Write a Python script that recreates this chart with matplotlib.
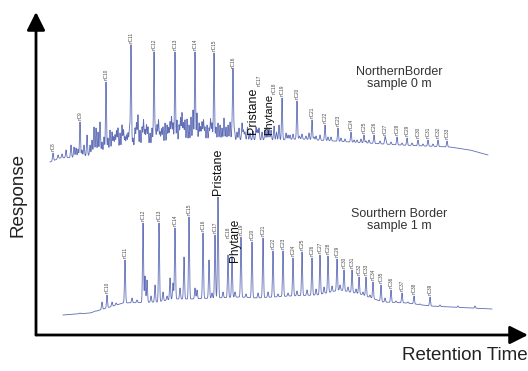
import numpy as np
import matplotlib
matplotlib.use("Agg")
import matplotlib.pyplot as plt

plt.rcParams["font.family"] = ["Liberation Sans", "DejaVu Sans"]

# ---------------- Northern Border, sample 0 m ----------------
north_base_t = [1.4, 2.4, 4.4, 7.4, 10.4, 13.4, 16.4, 20.4, 24.4, 26.4, 31.4, 36.4, 41.4, 43.4, 45.2]
north_base_r = [13, 17, 18, 23, 27, 29, 32, 35, 35, 36, 33, 30, 28, 25, 20]

north_names = ["nC8", "nC9", "nC10", "nC11", "nC12", "nC13", "nC14", "nC15", "nC16",
               "nC17", "nC18", "nC19", "nC20", "nC21", "nC22", "nC23", "nC24", "nC25",
               "nC26", "nC27", "nC28", "nC29", "nC30", "nC31", "nC32", "nC33"]
north_t = [1.7, 4.4, 7.0, 9.5, 11.8, 13.9, 15.9, 17.8, 19.7,
           22.3, 23.8, 24.6, 26.1, 27.6, 28.9, 30.2, 31.5, 32.8,
           33.8, 34.9, 36.1, 37.1, 38.2, 39.2, 40.2, 41.1]
north_r = [22, 53, 93, 130, 123, 123, 123, 122, 105,
           47, 49, 77, 74, 55, 50, 47, 43, 40,
           40, 38, 38, 37, 35, 35, 35, 34]

north_iso_t = [22.0, 23.5]      # pristane, phytane
north_iso_r = [48, 45]

north_minor_t = [2.2, 2.6, 3.0, 3.5, 3.8, 4.0, 4.2, 4.6, 4.8, 5.1, 5.4, 5.6, 5.8, 6.0,
                 6.2, 6.4, 6.6, 6.8, 7.2, 7.4, 7.6, 7.75, 7.9, 8.05, 8.2, 8.4, 8.6,
                 8.75, 8.9, 9.05, 9.2, 9.35, 9.7, 9.9, 10.05, 10.2, 10.4, 10.6, 10.75,
                 10.9, 11.05, 11.2, 11.4, 11.6, 11.95, 12.1, 12.25, 12.4, 12.55, 12.7,
                 12.9, 13.1, 13.25, 13.4, 13.55, 13.7, 14.1, 14.3, 14.45, 14.6, 14.75,
                 14.9, 15.1, 15.3, 15.5, 15.7, 16.1, 16.3, 16.45, 16.6, 16.75, 16.9,
                 17.1, 17.3, 17.45, 17.6, 18.0, 18.2, 18.4, 18.6, 18.8, 19.0, 19.2,
                 19.4, 19.6, 19.85, 20.1, 20.3, 20.6, 20.75, 20.9, 21.15, 21.4, 21.7,
                 22.15, 22.6, 22.9, 23.1, 23.3, 24.05, 24.3, 25.0, 25.2, 25.4, 25.7,
                 26.35, 26.6, 27.0, 27.3, 27.8, 28.0, 28.4, 29.2, 29.5, 30.5, 30.9,
                 31.8, 32.1, 32.5, 33.0, 33.3, 34.4, 35.0, 35.5, 36.6, 37.6, 38.7, 39.7]
north_minor_r = [20, 21, 25, 30, 28, 27, 26, 25, 30, 40, 30, 35, 48, 47,
                 43, 53, 33, 38, 37, 45, 43, 38, 40, 44, 47, 42, 50,
                 45, 38, 40, 42, 48, 37, 47, 52, 60, 45, 48, 55,
                 45, 50, 48, 42, 47, 45, 50, 55, 43, 46, 48,
                 52, 50, 47, 53, 58, 52, 55, 50, 57, 62, 52,
                 55, 56, 50, 58, 65, 62, 52, 48, 53, 55, 48,
                 50, 47, 56, 52, 48, 52, 50, 47, 57, 48, 50,
                 53, 45, 45, 43, 47, 52, 45, 43, 48, 42, 44,
                 45, 43, 45, 44, 47, 43, 50, 42, 40, 40, 41,
                 39, 41, 39, 42, 38, 39, 40, 38, 38, 37, 36,
                 35, 35, 36, 34, 35, 34, 34, 33, 32, 32, 31, 31]

# ---------------- Southern Border, sample 1 m ----------------
south_base_t = [2.7, 5.4, 6.4, 7.4, 8.7, 12.1, 13.7, 15.4, 20.4, 22.1, 25.4, 28.1,
                30.4, 32.4, 34.7, 37.1, 39.4, 41.4, 45.6]
south_base_r = [20, 22, 25, 28, 32, 33, 36, 36, 38, 37, 39, 40,
                45, 41, 33, 32, 29, 28, 26]

south_names = ["nC10", "nC11", "nC12", "nC13", "nC14", "nC15", "nC16", "nC17", "nC18",
               "nC19", "nC20", "nC21", "nC22", "nC23", "nC24", "nC25", "nC26", "nC27",
               "nC28", "nC29", "nC30", "nC31", "nC32", "nC33", "nC34", "nC35", "nC36",
               "nC37", "nC38", "nC39"]
south_t = [7.1, 8.9, 10.7, 12.3, 13.9, 15.3, 16.7, 17.9, 19.2,
           20.5, 21.6, 22.7, 23.7, 24.7, 25.7, 26.6, 27.6, 28.4,
           29.2, 30.1, 30.8, 31.6, 32.3, 33.0, 33.7, 34.5, 35.5,
           36.6, 37.8, 39.4]
south_r = [40, 75, 112, 112, 107, 118, 102, 100, 80,
           98, 93, 97, 84, 84, 77, 83, 77, 80,
           79, 76, 65, 65, 58, 58, 53, 50, 45,
           42, 39, 38]

south_iso_t = [18.2, 19.6]      # pristane, phytane
south_iso_r = [138, 78]

south_minor_t = [4.4, 5.9, 6.6, 7.6, 8.0, 9.6, 10.1, 10.9, 11.1, 11.5, 11.9, 12.7,
                 13.1, 13.4, 13.7, 14.4, 14.8, 15.9, 16.1, 17.3, 17.6, 18.7, 19.9,
                 21.0, 22.2, 23.2, 24.2, 25.2, 26.1, 27.1, 28.0, 28.8, 29.6, 30.4,
                 31.2, 32.0, 32.7, 33.4, 34.9, 36.0, 37.2, 38.4, 40.4, 42.2, 43.9]
south_minor_r = [22, 24, 33, 33, 32, 37, 35, 59, 55, 39, 50, 43,
                 39, 57, 52, 47, 78, 47, 45, 75, 42, 43, 43,
                 41, 42, 43, 41, 42, 44, 45, 46, 48, 49, 50,
                 48, 46, 43, 40, 37, 34, 33, 31, 30, 29, 29]

NORTH_OFFSET = 160
north_label_at = {"nC17": 89, "nC18": 81}
south_label_at = {"nC18": 97}


def chromatogram(base_t, base_r, peak_t, peak_r, sigma=0.05, step=0.01):
    t = np.arange(base_t[0], base_t[-1], step)
    y = np.interp(t, base_t, base_r).astype(float)
    for tp, rp in zip(peak_t, peak_r):
        h = rp - np.interp(tp, base_t, base_r)
        y += h * np.exp(-0.5 * ((t - tp) / sigma) ** 2)
    return t, y


W, H = 528, 371
fig = plt.figure(figsize=(W / 100, H / 100), dpi=100)
x0, y_axis, y_top = 36, 335, 12
ax = fig.add_axes([x0 / W, (H - y_axis) / H, (W - x0) / W, (y_axis - y_top) / H])
ax.set_xlim(0, (W - x0) / 10)
ax.set_ylim(0, y_axis - y_top)
ax.axis("off")

trace_color = "#4d5cae"

# northern trace (stacked above)
nt, ny = chromatogram(north_base_t, north_base_r,
                      north_t + north_iso_t + north_minor_t,
                      north_r + north_iso_r + north_minor_r)
ax.plot(nt, ny + NORTH_OFFSET, color=trace_color, lw=0.6, alpha=0.9)

# southern trace
st, sy = chromatogram(south_base_t, south_base_r,
                      south_t + south_iso_t + south_minor_t,
                      south_r + south_iso_r + south_minor_r)
ax.plot(st, sy, color=trace_color, lw=0.6, alpha=0.9)

# n-alkane labels
for name, tp, rp in zip(north_names, north_t, north_r):
    ry = north_label_at.get(name, rp + 2)
    ax.text(tp, ry + NORTH_OFFSET, name, rotation=90, ha="center", va="bottom",
            fontsize=3.4, color="#444444")
for name, tp, rp in zip(south_names, south_t, south_r):
    ry = south_label_at.get(name, rp + 2)
    ax.text(tp, ry, name, rotation=90, ha="center", va="bottom",
            fontsize=3.4, color="#444444")

# isoprenoid labels
ax.text(21.7, 41 + NORTH_OFFSET, "Pristane", rotation=90, ha="center", va="bottom",
        fontsize=9, color="#111111")
ax.text(23.3, 40 + NORTH_OFFSET, "Phytane", rotation=90, ha="center", va="bottom",
        fontsize=8, color="#111111")
ax.text(18.2, 140, "Pristane", rotation=90, ha="center", va="bottom",
        fontsize=9, color="#111111")
ax.text(19.85, 73, "Phytane", rotation=90, ha="center", va="bottom",
        fontsize=8.5, color="#111111")

# sample captions
ax.text(36.3, 257, "NorthernBorder\nsample 0 m", ha="center", va="center",
        fontsize=9, color="#333333", linespacing=1.0)
ax.text(36.3, 115, "Sourthern Border\nsample 1 m", ha="center", va="center",
        fontsize=9, color="#333333", linespacing=1.0)

# axis arrows
arrow = dict(arrowstyle="-|>,head_length=11,head_width=5.5", lw=2, color="black",
             shrinkA=0, shrinkB=0, mutation_scale=1)
ax.annotate("", xy=(0, 1), xytext=(0, 0), xycoords="axes fraction",
            textcoords="axes fraction", arrowprops=arrow)
ax.annotate("", xy=(1, 0), xytext=(0, 0), xycoords="axes fraction",
            textcoords="axes fraction", arrowprops=arrow)

fig.text(465 / W, 1 - 356 / H, "Retention Time", ha="center", va="center",
         fontsize=13.5, color="#222222")
fig.text(18 / W, 1 - 195 / H, "Response", ha="center", va="center", rotation=90,
         fontsize=13.5, color="#222222")

fig.savefig("out.png", dpi=100)
